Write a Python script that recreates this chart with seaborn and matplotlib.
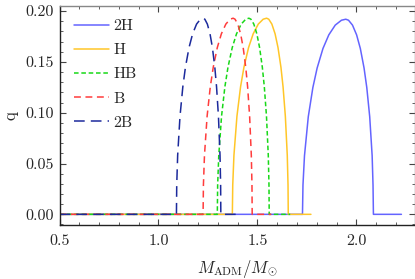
import numpy as np
import pandas as pd
import matplotlib
matplotlib.use("Agg")
import matplotlib.pyplot as plt
import seaborn as sns
from matplotlib.ticker import MultipleLocator, FormatStrFormatter

# ---- data ----
x_2H = [0.5, 1.7272, 1.7297, 1.7373, 1.7565, 1.7797, 1.8013, 1.8307, 1.8602, 1.8927, 1.9241, 1.9459,
        1.9598, 1.9798, 2.0006, 2.0194, 2.0382, 2.0520, 2.0668, 2.0791, 2.0835, 2.0855, 2.227]
q_2H = [0.0, 0.0, 0.0288, 0.0576, 0.096, 0.1248, 0.144, 0.1632, 0.1766, 0.1862, 0.1910, 0.192,
        0.1910, 0.1862, 0.1766, 0.1632, 0.144, 0.1248, 0.096, 0.0576, 0.0288, 0.0, 0.0]

x_H = [0.5, 1.3730, 1.3750, 1.3810, 1.3962, 1.4145, 1.4316, 1.4549, 1.4782, 1.5039, 1.5287, 1.546,
       1.5569, 1.5726, 1.5889, 1.6036, 1.6184, 1.6291, 1.6407, 1.6504, 1.6542, 1.6554, 1.77]
q_H = [0.0, 0.0, 0.029, 0.058, 0.0965, 0.1255, 0.1448, 0.1641, 0.1776, 0.1872, 0.1920, 0.193,
       0.1920, 0.1872, 0.1776, 0.1641, 0.1448, 0.1255, 0.0965, 0.058, 0.029, 0.0, 0.0]

x_HB = [0.5, 1.2970, 1.2988, 1.3044, 1.3184, 1.3353, 1.3510, 1.3725, 1.3940, 1.4177, 1.4406, 1.4565,
        1.4668, 1.4815, 1.4967, 1.5106, 1.5244, 1.5345, 1.5454, 1.5545, 1.5580, 1.5592, 1.665]
q_HB = [0.0, 0.0, 0.029, 0.058, 0.0965, 0.1255, 0.1448, 0.1641, 0.1776, 0.1872, 0.1920, 0.193,
        0.1920, 0.1872, 0.1776, 0.1641, 0.1448, 0.1255, 0.0965, 0.058, 0.029, 0.0, 0.0]

x_B = [0.5, 1.2252, 1.2269, 1.2322, 1.2455, 1.2616, 1.2766, 1.2970, 1.3175, 1.3401, 1.3618, 1.377,
       1.3866, 1.4004, 1.4147, 1.4277, 1.4406, 1.4501, 1.4603, 1.4688, 1.4721, 1.4732, 1.57]
q_B = [0.0, 0.0, 0.029, 0.058, 0.0965, 0.1255, 0.1448, 0.1641, 0.1776, 0.1872, 0.1920, 0.193,
       0.1920, 0.1872, 0.1776, 0.1641, 0.1448, 0.1255, 0.0965, 0.058, 0.029, 0.0, 0.0]

x_2B = [0.5, 1.0906, 1.0921, 1.0968, 1.1086, 1.1229, 1.1361, 1.1542, 1.1723, 1.1923, 1.2116, 1.225,
        1.2340, 1.2468, 1.2602, 1.2723, 1.2844, 1.2932, 1.3028, 1.3107, 1.3138, 1.3148, 1.40]
q_2B = [0.0, 0.0, 0.029, 0.058, 0.0965, 0.1255, 0.1448, 0.1641, 0.1776, 0.1872, 0.1920, 0.193,
        0.1920, 0.1872, 0.1776, 0.1641, 0.1448, 0.1255, 0.0965, 0.058, 0.029, 0.0, 0.0]

labels = ["2H", "H", "HB", "B", "2B"]
colors = ["#6464ff", "#ffc628", "#18d818", "#ff3c3c", "#1c2a9c"]
dashes = [None, None, (3.0, 1.8), (4.5, 3.0), (7.0, 4.0)]

sns.set_style("ticks")
plt.rcParams["font.family"] = ["cmr10", "DejaVu Serif"]
plt.rcParams["mathtext.fontset"] = "cm"
plt.rcParams["axes.formatter.use_mathtext"] = True

fig = plt.figure(figsize=(4.15, 2.79), dpi=100)
ax = fig.add_axes([59.5 / 415, 1 - 225 / 279, (414.5 - 59.5) / 415, (225 - 5.7) / 279])

series = [(x_2H, q_2H), (x_H, q_H), (x_HB, q_HB), (x_B, q_B), (x_2B, q_2B)]
for (xs, qs), lab, col, dsh in zip(series, labels, colors, dashes):
    df = pd.DataFrame({"M": xs, "q": qs})
    sns.lineplot(data=df, x="M", y="q", ax=ax, color=col, lw=1.1,
                 sort=False, estimator=None, label=lab)
    line = ax.get_lines()[-1]
    if dsh is not None:
        line.set_dashes(dsh)

ax.set_xlim(0.5, 2.293)
ax.set_ylim(-0.0105, 0.2053)
ax.xaxis.set_major_locator(MultipleLocator(0.5))
ax.xaxis.set_minor_locator(MultipleLocator(0.1))
ax.yaxis.set_major_locator(MultipleLocator(0.05))
ax.yaxis.set_minor_locator(MultipleLocator(0.01))
ax.xaxis.set_major_formatter(FormatStrFormatter("%.1f"))
ax.yaxis.set_major_formatter(FormatStrFormatter("%.2f"))
ax.tick_params(which="both", direction="in", top=True, right=True, labelsize=11.5, color="#444444")
ax.tick_params(axis="x", which="major", pad=7)
ax.tick_params(axis="y", which="major", pad=4)
ax.tick_params(which="major", length=4.5, width=0.8)
ax.tick_params(which="minor", length=2.5, width=0.6)
for s in ["top", "right"]:
    ax.spines[s].set_color("#888888")
for s in ["left", "bottom"]:
    ax.spines[s].set_color("#222222")
for s in ax.spines.values():
    s.set_linewidth(1.0)

ax.set_xlabel(r"$M_{\rm ADM}/M_{\odot}$", fontsize=12, labelpad=7)
ax.set_ylabel("q", fontsize=12, labelpad=5)

leg = ax.legend(loc="upper left", frameon=False, fontsize=11.5, handlelength=2.2,
                handletextpad=0.3, labelspacing=0.62, borderaxespad=0.0,
                bbox_to_anchor=(0.022, 0.968))

fig.savefig("out.png", dpi=100)
